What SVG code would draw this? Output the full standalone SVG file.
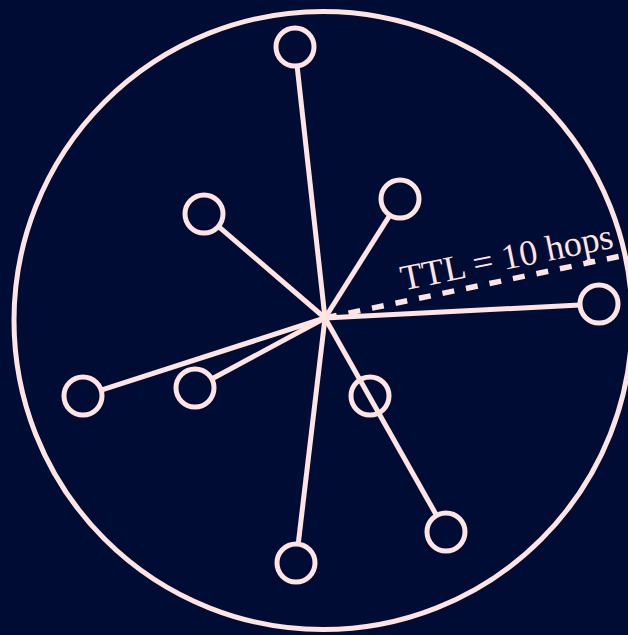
<svg xmlns="http://www.w3.org/2000/svg" width="628" height="635" viewBox="0 0 628 635">
<style>
.ln{stroke:#ffe4e1;stroke-width:5;fill:none;stroke-linecap:butt}
.nd{stroke:#ffe4e1;stroke-width:5;fill:none}
.dash{stroke:#ffe4e1;stroke-width:5.5;stroke-dasharray:12 12;fill:none}
.lbl{font-family:"Liberation Serif","Times New Roman",serif;font-size:36px;fill:#ffe4e1}
</style>
<rect width="628" height="635" fill="#010c35"/>
<circle id="boundary" cx="323" cy="320.5" r="309" fill="none" stroke="#ffe4e1" stroke-width="5"/>
<g id="connectors">
<line class="ln" x1="325" y1="318" x2="297.1" y2="65.9"/>
<line class="ln" x1="325" y1="318" x2="218.4" y2="226.4"/>
<line class="ln" x1="325" y1="318" x2="389.9" y2="215.1"/>
<line class="ln" x1="325" y1="318" x2="580" y2="305"/>
<line class="ln" x1="325" y1="318" x2="101.1" y2="390.2"/>
<line class="ln" x1="325" y1="318" x2="211.7" y2="379"/>
<line class="ln" x1="325" y1="318" x2="436.6" y2="515.5"/>
<line class="ln" x1="325" y1="318" x2="298.2" y2="544.1"/>
<line class="dash" x1="325" y1="318" x2="640" y2="252"/>
</g>
<text class="lbl" x="509" y="269" text-anchor="middle" transform="rotate(-11.5 509 269)">TTL = 10 hops</text>
<g id="n-top"><circle class="nd" cx="295" cy="47" r="19"/></g>
<g id="n-ul"><circle class="nd" cx="204" cy="214" r="19"/></g>
<g id="n-ur"><circle class="nd" cx="400" cy="199" r="19"/></g>
<g id="n-right"><circle class="nd" cx="599" cy="304" r="19"/></g>
<g id="n-lfar"><circle class="nd" cx="83" cy="396" r="19"/></g>
<g id="n-lnear"><circle class="nd" cx="195" cy="388" r="19"/></g>
<g id="n-cr"><circle class="nd" cx="370" cy="396" r="19"/></g>
<g id="n-lr"><circle class="nd" cx="446" cy="532" r="19"/></g>
<g id="n-bottom"><circle class="nd" cx="296" cy="563" r="19"/></g>
</svg>
